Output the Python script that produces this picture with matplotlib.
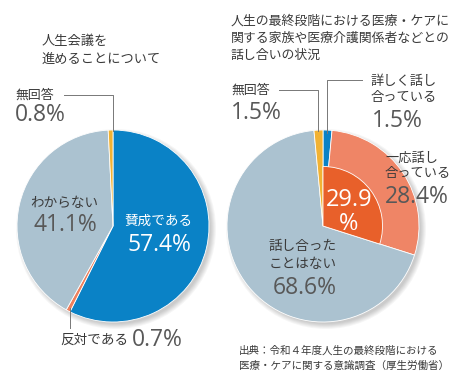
import matplotlib
matplotlib.use('Agg')
import matplotlib.pyplot as plt
from matplotlib.patches import Circle

plt.rcParams['font.family'] = ['Noto Sans CJK JP', 'DejaVu Sans']

# left pie: 人生会議を進めることについて
left_labels = ['賛成である', '反対である', 'わからない', '無回答']
left_values = [57.4, 0.7, 41.1, 0.8]
left_colors = ['#0a82c6', '#ee7f5c', '#abc2d0', '#f2b233']

# right pie: 話し合いの状況
right_labels = ['詳しく話し合っている', '一応話し合っている', '話し合ったことはない', '無回答']
right_values = [1.5, 28.4, 68.6, 1.5]
right_colors = ['#0a82c6', '#ef8566', '#abc2d0', '#f2b233']
inner_value = 29.9
inner_color = '#e8602a'

W, H = 464, 390
fig = plt.figure(figsize=(W/100, H/100), dpi=100)
ax = fig.add_axes([0, 0, 1, 1])
ax.set_xlim(0, W)
ax.set_ylim(0, H)
ax.axis('off')

def Y(py):
    return H - py

lc = (113, Y(226))
rc = (323, Y(226))
R = 96

# soft shadow
for c in (lc, rc):
    for k in range(6):
        ax.add_patch(Circle((c[0] + 3, c[1] - 3), R + 4 - k, color='#000000',
                            alpha=0.035, lw=0, zorder=0))

ax.pie(left_values, colors=left_colors, startangle=90, counterclock=False,
       center=lc, radius=R, wedgeprops=dict(edgecolor='white', linewidth=0.6),
       frame=True)
ax.pie(right_values, colors=right_colors, startangle=90, counterclock=False,
       center=rc, radius=R, wedgeprops=dict(edgecolor='white', linewidth=0.6),
       frame=True)
inner = ax.pie([inner_value, 100 - inner_value], colors=[inner_color, 'none'],
               startangle=90, counterclock=False, center=rc, radius=R * 0.62,
               wedgeprops=dict(edgecolor='white', linewidth=0.6), frame=True)
inner[0][1].set_edgecolor('none')
ax.set_xlim(0, W)
ax.set_ylim(0, H)
ax.axis('off')

tc = '#3a3a3a'
pc = '#585858'
num = dict(family=['Open Sans', 'Noto Sans CJK JP'], weight='normal', fontsize=16.5)

# titles
ax.text(42, Y(35), '人生会議を\n進めることについて', fontsize=9.5, color=tc,
        va='top', linespacing=1.5)
ax.text(231, Y(15), '人生の最終段階における医療・ケアに\n関する家族や医療介護関係者などとの\n話し合いの状況',
        fontsize=9.3, color=tc, va='top', linespacing=1.4)

# left labels
ax.text(15, Y(95), '無回答', fontsize=9.3, color=tc, va='center')
ax.text(15, Y(115), '0.8%', color=pc, va='center', **num)
ax.plot([64, 113, 113], [Y(95), Y(95), Y(131)], color='#777777', lw=0.7)

ax.text(64, Y(203), 'わからない', fontsize=9.8, color=tc, va='center', ha='center')
ax.text(65, Y(225), '41.1%', color=pc, va='center', ha='center', **num)

ax.text(159, Y(221), '賛成である', fontsize=9.8, color='white', va='center', ha='center')
ax.text(159, Y(245), '57.4%', color='white', va='center', ha='center', **num)

ax.plot([70, 70], [Y(308), Y(328)], color='#777777', lw=0.7)
ax.text(60, Y(340), '反対である', fontsize=9.8, color=tc, va='center')
ax.text(132, Y(340), '0.7%', color=pc, va='center', **num)

# right labels
ax.text(231, Y(90), '無回答', fontsize=9.3, color=tc, va='center')
ax.text(231, Y(113), '1.5%', color=pc, va='center', **num)
ax.plot([279, 318, 318], [Y(90), Y(90), Y(131)], color='#777777', lw=0.7)

ax.text(371, Y(89), '詳しく話し\n合っている', fontsize=9.5, color=tc, va='center',
        linespacing=1.3)
ax.text(372, Y(121), '1.5%', color=pc, va='center', **num)
ax.plot([362, 327, 327], [Y(80), Y(80), Y(133)], color='#777777', lw=0.7)

ax.text(385, Y(166), '一応話し\n合っている', fontsize=9.5, color=tc, va='center',
        linespacing=1.3)
ax.text(385, Y(197), '28.4%', color=pc, va='center', **num)

ax.text(349, Y(212), '29.9\n%', color='white', va='center', ha='center',
        fontsize=17, weight='normal', family=['Open Sans', 'Noto Sans CJK JP'],
        linespacing=0.95)

ax.text(303, Y(255), '話し合った\nことはない', fontsize=9.8, color=tc, va='center',
        ha='center', linespacing=1.3)
ax.text(305, Y(288), '68.6%', color=pc, va='center', ha='center', **num)

# source
ax.text(239, Y(345), '出典：令和４年度人生の最終段階における\n医療・ケアに関する意識調査（厚生労働省）',
        fontsize=7.6, color=tc, va='top', linespacing=1.7)

fig.savefig('out.png', dpi=100)
